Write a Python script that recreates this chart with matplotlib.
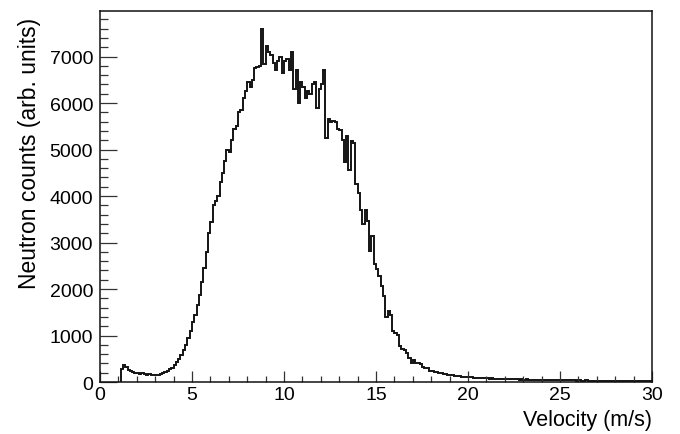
import numpy as np
import matplotlib
matplotlib.use('Agg')
import matplotlib.pyplot as plt
from matplotlib.ticker import MultipleLocator

plt.rcParams['font.family'] = ['Liberation Sans', 'DejaVu Sans']

# histogram binning (m/s)
bin_width = 0.125
first_edge = 1.125

# neutron counts per bin, starting at first_edge
counts = [
    280, 360, 330, 260, 230, 210, 200, 190, 170, 190, 175, 160, 170, 150, 145, 150,     # 1.125 - 3.0
    160, 175, 195, 220, 245, 280, 310, 370, 420, 500, 590, 690, 800, 950, 1100, 1280,   # 3.125 - 5.0
    1450, 1650, 1870, 2150, 2450, 2800, 3200, 3450, 3800, 3900, 4000, 4300, 4500, 4750, 5000, 4950,  # 5.125 - 7.0
    5200, 5450, 5500, 5800, 5850, 6100, 6250, 6450, 6350, 6500, 6750, 6780, 6800, 7600, 6830, 7230,  # 7.125 - 9.0
    7100, 7040, 6870, 6720, 6900, 7000, 6650, 6900, 6950, 6700, 7100, 6300, 6700, 6000, 6450, 6350,  # 9.125 - 11.0
    6100, 6250, 6200, 6400, 6450, 5900, 6300, 6400, 6700, 5250, 5650, 5600, 5610, 5600, 5450, 5430,  # 11.125 - 13.0
    5200, 4740, 5300, 4570, 5180, 5150, 4250, 4070, 3710, 3390, 3700, 3460, 2810, 3130, 2530, 2420,  # 13.125 - 15.0
    2280, 2060, 1850, 1390, 1520, 1450, 1090, 1050, 1020, 770, 700, 690, 630, 520, 410, 480,          # 15.125 - 17.0
    410, 400, 390, 330, 305, 310, 240, 230, 225, 210, 200, 195, 175, 165, 160, 150,                   # 17.125 - 19.0
    145, 140, 135, 125, 115, 110, 105, 100, 110, 95, 90, 95, 85, 90, 80, 85,                          # 19.125 - 21.0
    75, 80, 70, 75, 72, 65, 70, 60, 65, 58, 62, 55, 60, 52, 55, 50,                                   # 21.125 - 23.0
    55, 48, 50, 45, 52, 44, 47, 42, 45, 40, 46, 38, 42, 40, 36, 40,                                   # 23.125 - 25.0
    35, 38, 34, 37, 33, 35, 30, 34, 32, 30, 33, 28, 31, 27, 30, 26,                                   # 25.125 - 27.0
    29, 28, 25, 27, 24, 28, 23, 26, 25, 22, 24, 21, 25, 20, 23, 22,                                   # 27.125 - 29.0
    20, 22, 19, 21, 18, 20, 19,                                                                       # 29.125 - 29.875
]

edges = first_edge + bin_width * np.arange(len(counts) + 1)

fig = plt.figure(figsize=(6.8, 4.35), dpi=100)
ax = fig.add_axes([0.147, 0.1195, 0.812, 0.853])

ax.stairs(counts, edges, color='#141414', linewidth=1.4, baseline=0)

ax.set_xlim(0, 30)
ax.set_ylim(0, 7980)

ax.xaxis.set_major_locator(MultipleLocator(5))
ax.xaxis.set_minor_locator(MultipleLocator(1))
ax.yaxis.set_major_locator(MultipleLocator(1000))
ax.yaxis.set_minor_locator(MultipleLocator(200))

ax.tick_params(axis='both', which='both', direction='in', top=False, right=False,
               width=0.9, color='#333333', labelsize=14)
ax.tick_params(axis='y', which='major', length=12, pad=5)
ax.tick_params(axis='y', which='minor', length=6)
ax.tick_params(axis='x', which='major', length=8, pad=3)
ax.tick_params(axis='x', which='minor', length=4)

for s in ax.spines.values():
    s.set_linewidth(1.1)
    s.set_color('#111111')

ax.set_xlabel('Velocity (m/s)', fontsize=15.5, loc='right', labelpad=4)
ax.set_ylabel('Neutron counts (arb. units)', fontsize=16.5, loc='top')
ax.yaxis.set_label_coords(-0.107, 0.985)

fig.savefig('out.png', dpi=100)
